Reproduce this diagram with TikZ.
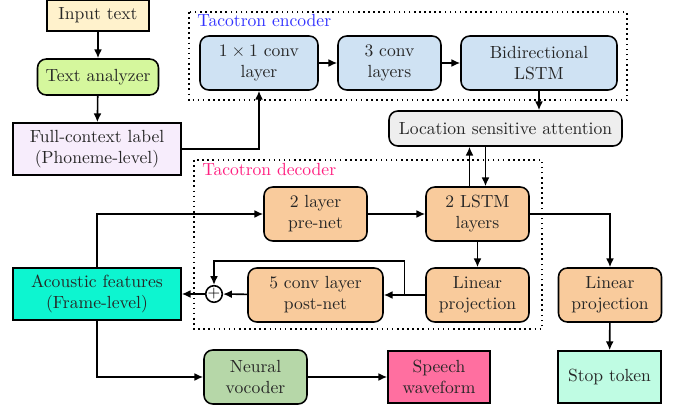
\documentclass[tikz,border=0pt]{standalone}
\usepackage{amsmath,amssymb}
\usepackage{tikz}
\usetikzlibrary{arrows.meta,positioning,calc}
\definecolor{tinput}{HTML}{FFF2CC}
\definecolor{tanalyz}{HTML}{D5F79D}
\definecolor{tlabel}{HTML}{F7EDFC}
\definecolor{tenc}{HTML}{CFE2F3}
\definecolor{tatt}{HTML}{EEEEEE}
\definecolor{tdec}{HTML}{F9CB9C}
\definecolor{tacou}{HTML}{0DF5D0}
\definecolor{tstop}{HTML}{BFFCE3}
\definecolor{tvoc}{HTML}{B6D7A8}
\definecolor{twave}{HTML}{FF6FA0}
\definecolor{tblue}{HTML}{3333FF}
\definecolor{tpink}{HTML}{FF1F80}
\tikzset{
  blk/.style={draw=black,line width=0.9pt,align=center,font=\normalsize,inner sep=2pt,text=black!85},
  rblk/.style={blk,rounded corners=5pt},
  arr/.style={-{Latex[length=5pt,width=4.5pt]},line width=0.9pt},
  ln/.style={line width=0.9pt},
  frame/.style={draw,dotted,line width=0.9pt},
}
\begin{document}
\begin{tikzpicture}[x=0.02cm,y=-0.02cm,
                    enc/.style={rblk,fill=tenc,minimum height=1.08cm},
                    dec/.style={rblk,fill=tdec,minimum width=2.06cm,minimum height=1.08cm}]
  \useasboundingbox (0,0) rectangle (677,408);
  % frames
  \draw[frame] (189,12) rectangle (627,100);
  \node[anchor=north west,inner sep=0pt,text=tblue] (enctitle) at (197,14) {Tacotron encoder};
  \draw[frame] (194,160) rectangle (542,329);
  \node[anchor=north west,inner sep=0pt,text=tpink] (dectitle) at (202,163) {Tacotron decoder};
  % front end
  \node[blk,fill=tinput,minimum width=2.04cm,minimum height=0.62cm] (input) at (98,15.5) {Input text};
  \node[rblk,fill=tanalyz,minimum width=2.42cm,minimum height=0.72cm] (analyz) at (98,77) {Text analyzer};
  \node[blk,fill=tlabel,minimum width=3.36cm,minimum height=1.04cm] (ctx) at (97,149) {Full-context label\\(Phoneme-level)};
  % encoder
  \node[enc,minimum width=2.36cm] (conv1) at (259,63) {$1\times1$ conv\\layer};
  \node[enc,minimum width=2.06cm] (conv3) at (389.5,63) {3 conv\\layers};
  \node[enc,minimum width=3.12cm] (bilstm) at (539,63) {Bidirectional\\LSTM};
  \node[rblk,fill=tatt,minimum width=4.66cm,minimum height=0.7cm] (att) at (505.5,128.5) {Location sensitive attention};
  % decoder
  \node[dec] (prenet) at (315.5,214) {2 layer\\pre-net};
  \node[dec] (lstm) at (477.5,214) {2 LSTM\\layers};
  \node[dec] (lproj) at (477.5,295) {Linear\\projection};
  \node[dec,minimum width=2.7cm] (postnet) at (315.5,295) {5 conv layer\\post-net};
  \node[circle,draw,line width=0.9pt,inner sep=0pt,minimum size=0.28cm,font=\small] (plus) at (214,294) {$+$};
  \node[dec] (lproj2) at (610,295) {Linear\\projection};
  % outputs
  \node[blk,fill=tacou,minimum width=3.36cm,minimum height=1.04cm] (acou) at (97,294) {Acoustic features\\(Frame-level)};
  \node[blk,fill=tstop,minimum width=2.06cm,minimum height=1.04cm] (stop) at (609.5,377) {Stop token};
  \node[rblk,fill=tvoc,minimum width=2.06cm,minimum height=1.08cm] (voc) at (255.5,377) {Neural\\vocoder};
  \node[blk,fill=twave,minimum width=2.04cm,minimum height=1.04cm] (wave) at (439,377) {Speech\\waveform};
  % arrows
  \draw[arr] (input) -- (analyz);
  \draw[arr] (analyz) -- (ctx);
  \draw[arr] (ctx.east) -| (conv1.south);
  \draw[arr] (conv1) -- (conv3);
  \draw[arr] (conv3) -- (bilstm);
  \draw[arr] (bilstm.south) -- (bilstm.south |- att.north);
  \coordinate (lup) at ($(lstm.north)+(-8,0)$);
  \coordinate (ldn) at ($(lstm.north)+(8,0)$);
  \draw[arr] (lup) -- (lup |- att.south);
  \draw[arr] (ldn |- att.south) -- (ldn);
  \draw[arr] (prenet) -- (lstm);
  \draw[arr] (lstm) -- (lproj);
  \draw[arr] (lstm.east) -| (lproj2.north);
  \draw[arr] (lproj2) -- (stop);
  \draw[arr] (lproj) -- (postnet);
  \coordinate (fb) at ($(postnet.east)!0.5!(lproj.west)$);
  \draw[arr] (fb) -- ++(0,-34) -| (plus.north);
  \draw[arr] (postnet) -- (plus);
  \draw[arr] (plus) -- (acou);
  \draw[arr] (acou.north) |- (prenet.west);
  \draw[arr] (acou.south) |- (voc.west);
  \draw[arr] (voc) -- (wave);
\end{tikzpicture}
\end{document}
